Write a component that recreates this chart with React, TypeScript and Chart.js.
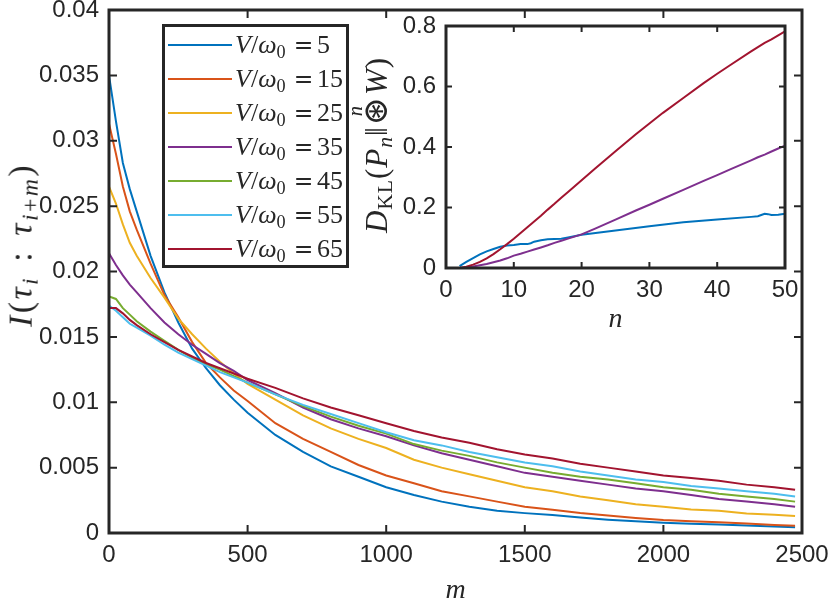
import React, { useEffect, useRef } from 'react';
import { Chart, registerables } from 'chart.js';

Chart.register(...registerables);

// ---------- main chart data ----------
const mValues = [0, 25, 50, 75, 100, 150, 200, 250, 300, 350, 400, 450, 500, 600, 700, 800, 900, 1000, 1100, 1200, 1300, 1400, 1500, 1600, 1700, 1800, 1900, 2000, 2100, 2200, 2300, 2400, 2475];

const mi5 = [0.0350, 0.0315, 0.0283, 0.0263, 0.0246, 0.0212, 0.0184, 0.0161, 0.0141, 0.0126, 0.0113, 0.0102, 0.0092, 0.0075, 0.0062, 0.0051, 0.0043, 0.0035, 0.0029, 0.0024, 0.0020, 0.0017, 0.00152, 0.00137, 0.00118, 0.00102, 0.00090, 0.00079, 0.00071, 0.00065, 0.00057, 0.00049, 0.00044];
const mi15 = [0.0313, 0.0290, 0.0265, 0.0246, 0.0232, 0.0206, 0.0182, 0.0165, 0.0146, 0.0130, 0.0119, 0.0109, 0.0101, 0.0084, 0.0072, 0.0062, 0.0052, 0.0044, 0.0038, 0.0032, 0.0028, 0.0024, 0.0020, 0.00178, 0.00153, 0.00133, 0.00114, 0.00099, 0.00090, 0.00083, 0.00072, 0.00061, 0.00056];
const mi25 = [0.0265, 0.0252, 0.0236, 0.0222, 0.0212, 0.0195, 0.0180, 0.0164, 0.0152, 0.0141, 0.0131, 0.0122, 0.0114, 0.0102, 0.0090, 0.0080, 0.0072, 0.0065, 0.0056, 0.0050, 0.0045, 0.0040, 0.0035, 0.0032, 0.0028, 0.0025, 0.0022, 0.0020, 0.0018, 0.0017, 0.0015, 0.0014, 0.0013];
const mi35 = [0.0214, 0.0205, 0.0197, 0.0190, 0.0184, 0.0172, 0.0161, 0.0152, 0.0144, 0.0137, 0.0130, 0.0124, 0.0117, 0.0107, 0.0096, 0.0087, 0.0080, 0.0074, 0.0067, 0.0061, 0.0056, 0.0051, 0.0046, 0.0043, 0.0040, 0.0037, 0.0034, 0.0032, 0.0029, 0.0026, 0.0024, 0.0022, 0.0020];
const mi45 = [0.0181, 0.0179, 0.0172, 0.0167, 0.0162, 0.0154, 0.0147, 0.0140, 0.0134, 0.0129, 0.0125, 0.0120, 0.0115, 0.0106, 0.0097, 0.0089, 0.0082, 0.0076, 0.0068, 0.0063, 0.0059, 0.0054, 0.0050, 0.0046, 0.0043, 0.0041, 0.0038, 0.0035, 0.0033, 0.0030, 0.0028, 0.0026, 0.0024];
const mi55 = [0.0174, 0.0170, 0.0165, 0.0160, 0.0157, 0.0151, 0.0144, 0.0138, 0.0133, 0.0128, 0.0123, 0.0119, 0.0115, 0.0106, 0.0098, 0.0091, 0.0084, 0.0077, 0.0071, 0.0067, 0.0062, 0.0058, 0.0054, 0.0051, 0.0047, 0.0044, 0.0041, 0.0039, 0.0036, 0.0034, 0.0032, 0.0030, 0.0028];
const mi65 = [0.0172, 0.0172, 0.0168, 0.0163, 0.0159, 0.0152, 0.0146, 0.0140, 0.0135, 0.0130, 0.0126, 0.0122, 0.0118, 0.0111, 0.0103, 0.0096, 0.0090, 0.0084, 0.0078, 0.0073, 0.0069, 0.0064, 0.0060, 0.0057, 0.0053, 0.0050, 0.0047, 0.0044, 0.0042, 0.0040, 0.0037, 0.0035, 0.0033];

const seriesV = ['5', '15', '25', '35', '45', '55', '65'];
const seriesValues = [mi5, mi15, mi25, mi35, mi45, mi55, mi65];
const seriesColors = ['#0072BD', '#D95319', '#EDB120', '#7E2F8E', '#77AC30', '#4DBEEE', '#A2142F'];

const mainXTicks = ['0', '500', '1000', '1500', '2000', '2500'];
const mainYTicks = ['0', '0.005', '0.01', '0.015', '0.02', '0.025', '0.03', '0.035', '0.04'];

// ---------- inset data ----------
const nValues = [2, 3, 4, 5, 6, 7, 8, 9, 10, 11, 12, 13, 14, 15, 16, 17, 18, 20, 22, 25, 28, 30, 32, 35, 38, 40, 42, 45, 46, 47, 48, 49, 50];
const dkl65 = [0, 0.004, 0.011, 0.020, 0.032, 0.046, 0.062, 0.079, 0.097, 0.116, 0.135, 0.154, 0.173, 0.193, 0.212, 0.232, 0.251, 0.290, 0.329, 0.386, 0.442, 0.478, 0.513, 0.562, 0.611, 0.642, 0.672, 0.716, 0.730, 0.744, 0.756, 0.769, 0.782];
const dkl35 = [0, 0.002, 0.005, 0.009, 0.013, 0.019, 0.025, 0.032, 0.041, 0.047, 0.054, 0.061, 0.068, 0.075, 0.083, 0.090, 0.097, 0.111, 0.130, 0.160, 0.190, 0.209, 0.229, 0.258, 0.288, 0.307, 0.327, 0.356, 0.366, 0.375, 0.385, 0.395, 0.404];
const nValues5 = [2, 3, 4, 5, 6, 7, 8, 9, 10, 11, 12, 12.5, 13, 14, 15, 16, 17, 18, 20, 25, 30, 35, 40, 45, 46, 46.5, 47, 47.5, 48, 49, 50];
const dkl5 = [0.006, 0.020, 0.033, 0.045, 0.055, 0.063, 0.070, 0.074, 0.076, 0.079, 0.079, 0.082, 0.087, 0.092, 0.095, 0.096, 0.097, 0.101, 0.110, 0.124, 0.138, 0.151, 0.160, 0.169, 0.171, 0.175, 0.179, 0.178, 0.175, 0.176, 0.179];

const insetXTicks = ['0', '10', '20', '30', '40', '50'];
const insetYTicks = ['0', '0.2', '0.4', '0.6', '0.8'];

const AXIS = '#262626';
const TICK_FONT = { family: 'Liberation Sans', size: 24, lineHeight: 1 };

const boxTicks = {
  id: 'boxTicks',
  beforeDatasetsDraw(chart: any) {
    const { ctx, chartArea: a } = chart;
    ctx.save();
    ctx.fillStyle = '#ffffff';
    ctx.fillRect(a.left, a.top, a.right - a.left, a.bottom - a.top);
    ctx.restore();
  },
  afterDatasetsDraw(chart: any, _args: any, opts: any) {
    const { ctx, chartArea: a, scales } = chart;
    const len = opts.tickLen;
    ctx.save();
    ctx.strokeStyle = AXIS;
    ctx.lineWidth = opts.tickWidth;
    ctx.beginPath();
    scales.x.ticks.forEach((t: any) => {
      const px = scales.x.getPixelForValue(t.value);
      ctx.moveTo(px, a.bottom); ctx.lineTo(px, a.bottom - len);
      ctx.moveTo(px, a.top); ctx.lineTo(px, a.top + len);
    });
    scales.y.ticks.forEach((t: any) => {
      const py = scales.y.getPixelForValue(t.value);
      ctx.moveTo(a.left, py); ctx.lineTo(a.left + len, py);
      ctx.moveTo(a.right, py); ctx.lineTo(a.right - len, py);
    });
    ctx.stroke();
    ctx.lineWidth = opts.borderWidth;
    ctx.strokeRect(a.left, a.top, a.right - a.left, a.bottom - a.top);
    ctx.restore();
  },
};

function labelFrom(list: string[]) {
  return (_v: any, i: number) => list[i] ?? '';
}

const subStyle: React.CSSProperties = { fontSize: '0.7em', verticalAlign: '-0.25em' };

export default function App() {
  const mainRef = useRef<HTMLCanvasElement>(null);
  const insetRef = useRef<HTMLCanvasElement>(null);

  useEffect(() => {
    const mainChart = new Chart(mainRef.current as HTMLCanvasElement, {
      type: 'line',
      data: {
        datasets: seriesValues.map((vals, i) => ({
          label: 'V/ω0 = ' + seriesV[i],
          data: vals.map((y, k) => ({ x: mValues[k], y })),
          borderColor: seriesColors[i],
          backgroundColor: seriesColors[i],
          borderWidth: 2,
          pointRadius: 0,
          tension: 0,
          order: seriesValues.length - i,
        })),
      },
      options: {
        animation: false,
        responsive: false,
        events: [],
        layout: { padding: { left: 0, top: 10, right: 28, bottom: 0 } },
        plugins: { legend: { display: false }, tooltip: { enabled: false }, boxTicks: { tickLen: 8, tickWidth: 2, borderWidth: 3 } } as any,
        scales: {
          x: {
            type: 'linear', min: 0, max: 2500,
            grid: { display: false, drawTicks: false },
            border: { display: false },
            ticks: { stepSize: 500, padding: 10, color: AXIS, font: TICK_FONT, maxRotation: 0, callback: labelFrom(mainXTicks) },
            title: { display: true, text: 'm', color: AXIS, font: { family: 'Liberation Serif', size: 28, style: 'italic', lineHeight: 0.5 }, padding: { top: 0, bottom: 0 } },
            afterFit: (s: any) => { s.height = 65; s.paddingLeft = 0; s.paddingRight = 0; },
          },
          y: {
            type: 'linear', min: 0, max: 0.04,
            grid: { display: false, drawTicks: false },
            border: { display: false },
            ticks: { stepSize: 0.005, padding: 10, color: AXIS, font: TICK_FONT, callback: labelFrom(mainYTicks) },
            afterFit: (s: any) => { s.width = 109; s.paddingTop = 0; s.paddingBottom = 0; },
          },
        },
      },
      plugins: [boxTicks],
    });

    const insetSets = [
      { n: nValues5, v: dkl5, color: seriesColors[0], label: 'V/ω0 = 5' },
      { n: nValues, v: dkl35, color: seriesColors[3], label: 'V/ω0 = 35' },
      { n: nValues, v: dkl65, color: seriesColors[6], label: 'V/ω0 = 65' },
    ];

    const insetChart = new Chart(insetRef.current as HTMLCanvasElement, {
      type: 'line',
      data: {
        datasets: insetSets.map((s, i) => ({
          label: s.label,
          data: s.v.map((y, k) => ({ x: s.n[k], y })),
          borderColor: s.color,
          backgroundColor: s.color,
          borderWidth: 2,
          pointRadius: 0,
          tension: 0,
          order: insetSets.length - i,
        })),
      },
      options: {
        animation: false,
        responsive: false,
        events: [],
        layout: { padding: { left: 0, top: 14, right: 15, bottom: 0 } },
        plugins: { legend: { display: false }, tooltip: { enabled: false }, boxTicks: { tickLen: 6, tickWidth: 2, borderWidth: 3 } } as any,
        scales: {
          x: {
            type: 'linear', min: 0, max: 50,
            grid: { display: false, drawTicks: false },
            border: { display: false },
            ticks: { stepSize: 10, padding: 10, color: AXIS, font: TICK_FONT, maxRotation: 0, callback: labelFrom(insetXTicks) },
            title: { display: true, text: 'n', color: AXIS, font: { family: 'Liberation Serif', size: 28, style: 'italic', lineHeight: 1 }, padding: { top: 0, bottom: 8 } },
            afterFit: (s: any) => { s.height = 74; s.paddingLeft = 0; s.paddingRight = 0; },
          },
          y: {
            type: 'linear', min: 0, max: 0.8,
            grid: { display: false, drawTicks: false },
            border: { display: false },
            ticks: { stepSize: 0.2, padding: 10, color: AXIS, font: TICK_FONT, callback: labelFrom(insetYTicks) },
            afterFit: (s: any) => { s.width = 106; s.paddingTop = 0; s.paddingBottom = 0; },
          },
        },
      },
      plugins: [boxTicks],
    });

    return () => {
      mainChart.destroy();
      insetChart.destroy();
    };
  }, []);

  const serif = '"Liberation Serif", "DejaVu Serif", serif';

  return (
    <div style={{ position: 'absolute', left: 0, top: 0, width: 830, height: 598, background: '#ffffff', overflow: 'hidden' }}>
      <canvas ref={mainRef} width={830} height={598} style={{ position: 'absolute', left: 0, top: 0, width: 830, height: 598 }} />
      <canvas ref={insetRef} width={460} height={330} style={{ position: 'absolute', left: 340, top: 12, width: 460, height: 330 }} />

      {/* main y-axis label */}
      <div style={{ position: 'absolute', left: 23, top: 245, transform: 'translate(-50%, -50%) rotate(-90deg)', whiteSpace: 'nowrap', fontFamily: serif, fontSize: 34, letterSpacing: '0.07em', color: AXIS, lineHeight: 1 }}>
        <i>I</i>(<i>τ</i><sub style={subStyle}><i>i</i></sub><span style={{ margin: '0 0.42em' }}>:</span><i>τ</i><sub style={subStyle}><i>i</i>+<i>m</i></sub>)
      </div>

      {/* inset y-axis label */}
      <div style={{ position: 'absolute', left: 378, top: 145, transform: 'translate(-50%, -50%) rotate(-90deg)', whiteSpace: 'nowrap', fontFamily: serif, fontSize: 31, letterSpacing: '0.03em', color: AXIS, lineHeight: 1 }}>
        <i>D</i><sub style={subStyle}>KL</sub>(<i>P</i><sub style={subStyle}><i>n</i></sub>‖
        <span style={{ position: 'relative', display: 'inline-block', margin: '0 1px', fontSize: '1.1em' }}>
          ⊛
          <span style={{ position: 'absolute', left: '50%', top: '-0.7em', transform: 'translateX(-50%)', fontSize: '0.6em', fontStyle: 'italic' }}>n</span>
        </span>
        <i>W</i>)
      </div>

      {/* legend */}
      <div style={{ position: 'absolute', left: 162, top: 24, width: 187, height: 244, boxSizing: 'border-box', border: `3px solid ${AXIS}`, background: '#ffffff' }}>
        {seriesV.map((v, k) => (
          <div key={v} style={{ position: 'absolute', left: 0, top: 1 + 34 * k, height: 34, width: 181 }}>
            <div style={{ position: 'absolute', left: 3, top: 16, width: 64, height: 2, background: seriesColors[k] }} />
            <span style={{ position: 'absolute', left: 70, top: 2, whiteSpace: 'nowrap', fontFamily: serif, fontSize: 26, color: AXIS, lineHeight: '30px' }}>
              <i>V</i>/<i>ω</i><sub style={subStyle}>0</sub>
              <span style={{ fontFamily: '"DejaVu Serif", serif', fontSize: '0.9em', margin: '0 0.15em 0 0.35em' }}>=</span>
              {v}
            </span>
          </div>
        ))}
      </div>
    </div>
  );
}
